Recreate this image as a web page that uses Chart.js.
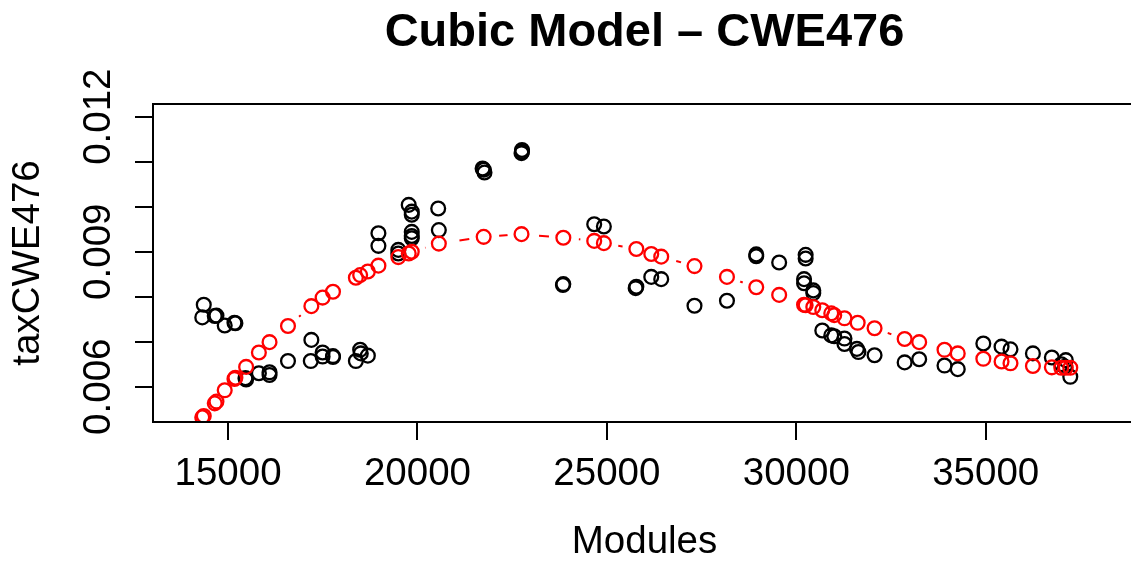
<!DOCTYPE html>
<html>
<head>
<meta charset="utf-8">
<title>Cubic Model – CWE476</title>
<script src="https://cdn.jsdelivr.net/npm/chart.js@4.4.1/dist/chart.umd.min.js"></script>
<style>
  html, body { margin: 0; padding: 0; background: #fff; overflow: hidden; }
  #wrap { width: 1131px; height: 562px; overflow: hidden; }
  canvas { display: block; }
</style>
</head>
<body>
<div id="wrap"><canvas id="c" width="1150" height="562"></canvas></div>
<script>
// observed values (black circles)
const obsModules = [
  14360, 14320, 14650, 14695, 14913, 15170, 15195, 15460, 15478, 15815,
  16096, 16096, 16583, 17200, 17185, 17497, 17497, 17771, 17771, 18375,
  18488, 18505, 18691, 18970, 18970, 19495, 19495, 19770, 19850, 19850,
  19850, 19850, 19850, 20548, 20565, 21720, 21750, 21770, 22760, 22760,
  22747, 23851, 23840, 24666, 24921, 25778, 25760, 26172, 26435, 27313,
  28170, 28943, 28943, 29548, 30247, 30247, 30205, 30205, 30449, 30449,
  30686, 30923, 31002, 31272, 31272, 31600, 31640, 32066, 32860, 33244,
  33912, 34262, 34937, 35418, 35654, 36246, 36746, 36995, 37114, 37090,
  37232
];
const obsTax = [
  0.00782, 0.00754, 0.00757, 0.00758, 0.00736, 0.00742, 0.00741, 0.00619, 0.00616, 0.00630,
  0.00632, 0.00626, 0.00657, 0.00704, 0.00657, 0.00676, 0.00667, 0.00668, 0.00666, 0.00657,
  0.00682, 0.00674, 0.00669, 0.00941, 0.00913, 0.00904, 0.00896, 0.01004, 0.00989, 0.00982,
  0.00944, 0.00935, 0.00930, 0.00996, 0.00948, 0.01085, 0.01082, 0.01076, 0.01126, 0.01122,
  0.01119, 0.00828, 0.00826, 0.00961, 0.00956, 0.00822, 0.00819, 0.00844, 0.00839, 0.00780,
  0.00791, 0.00894, 0.00890, 0.00876, 0.00893, 0.00885, 0.00839, 0.00830, 0.00814, 0.00808,
  0.00725, 0.00714, 0.00712, 0.00707, 0.00695, 0.00684, 0.00677, 0.00670, 0.00654, 0.00661,
  0.00647, 0.00639, 0.00696, 0.00689, 0.00683, 0.00674, 0.00665, 0.00650, 0.00659, 0.00644,
  0.00622
];

// fitted cubic values (red circles + dashed line)
const fitModules = [
  14320, 14360, 14650, 14695, 14913, 15170, 15195, 15478, 15815, 16096,
  16583, 17200, 17497, 17771, 18375, 18488, 18691, 18970, 19495, 19770,
  19850, 20565, 21748, 22747, 23851, 24666, 24921, 25778, 26172, 26435,
  27313, 28170, 28943, 29548, 30205, 30247, 30449, 30686, 30923, 31002,
  31272, 31620, 32066, 32860, 33244, 33912, 34262, 34937, 35418, 35654,
  36246, 36746, 36995, 37114, 37232
];
const fitTax = [
  0.00532, 0.00535, 0.00563, 0.00567, 0.00592, 0.00617, 0.00620, 0.00644, 0.00676, 0.00699,
  0.00735, 0.00779, 0.00798, 0.00811, 0.00842, 0.00848, 0.00856, 0.00869, 0.00888, 0.00896,
  0.00900, 0.00918, 0.00933, 0.00939, 0.00931, 0.00924, 0.00919, 0.00906, 0.00895, 0.00889,
  0.00868, 0.00844, 0.00821, 0.00804, 0.00782, 0.00781, 0.00777, 0.00770, 0.00763, 0.00759,
  0.00752, 0.00742, 0.00730, 0.00706, 0.00699, 0.00682, 0.00674, 0.00662, 0.00656, 0.00652,
  0.00646, 0.00643, 0.00642, 0.00642, 0.00642
];

const xTicks = [15000, 20000, 25000, 30000, 35000];
const xTickLabels = ["15000", "20000", "25000", "30000", "35000"];
const yTicks = [0.006, 0.007, 0.008, 0.009, 0.010, 0.011, 0.012];
const yLabelTicks = [0.006, 0.009, 0.012];      // R drops the overlapping ones
const yTickLabels = ["0.006", "0.009", "0.012"];

const FONT = "'Liberation Sans', Arial, Helvetica, sans-serif";
const AXIS_PX = 38.5;
const TICK_LEN = 18;

const pts = (xs, ys) => xs.map((x, i) => ({ x, y: ys[i] }));

// box + rotated y tick labels (chart.js won't rotate y tick labels)
const rFrame = {
  id: "rFrame",
  afterDraw(chart) {
    const { ctx, chartArea: a, scales } = chart;
    ctx.save();
    ctx.strokeStyle = "#000";
    ctx.lineWidth = 2;
    ctx.strokeRect(a.left, a.top, a.right - a.left, a.bottom - a.top);
    ctx.fillStyle = "#000";
    ctx.font = AXIS_PX + "px " + FONT;
    ctx.textAlign = "center";
    ctx.textBaseline = "alphabetic";
    yLabelTicks.forEach((v, i) => {
      ctx.save();
      ctx.translate(a.left - TICK_LEN - 25, scales.y.getPixelForValue(v));
      ctx.rotate(-Math.PI / 2);
      ctx.fillText(yTickLabels[i], 0, 0);
      ctx.restore();
    });
    ctx.restore();
  },
};

new Chart(document.getElementById("c"), {
  type: "scatter",
  data: {
    datasets: [
      {
        // dashed fit line; white discs cut gaps round each point like type="b"
        type: "line",
        data: pts(fitModules, fitTax),
        showLine: true,
        borderColor: "#ff0000",
        borderWidth: 2,
        borderDash: [10, 10],
        pointRadius: 14,
        pointBorderWidth: 0,
        pointBackgroundColor: "#ffffff",
        pointBorderColor: "#ffffff",
        clip: 0,
        order: 3,
      },
      {
        data: pts(obsModules, obsTax),
        pointStyle: "circle",
        pointRadius: 6.9,
        pointBorderWidth: 2.3,
        pointBorderColor: "#000000",
        pointBackgroundColor: "rgba(0,0,0,0)",
        clip: 0,
        order: 2,
      },
      {
        data: pts(fitModules, fitTax),
        pointStyle: "circle",
        pointRadius: 6.9,
        pointBorderWidth: 2.3,
        pointBorderColor: "#ff0000",
        pointBackgroundColor: "rgba(0,0,0,0)",
        clip: 0,
        order: 1,
      },
    ],
  },
  options: {
    responsive: false,
    animation: false,
    events: [],
    layout: { padding: { left: 0, right: 10, top: 0, bottom: 0 } },
    plugins: {
      legend: { display: false },
      tooltip: { enabled: false },
      title: {
        display: true,
        fullSize: false,
        text: "Cubic Model – CWE476",
        color: "#000",
        font: { family: FONT, size: 47, weight: "bold", lineHeight: 1 },
        padding: { top: 10, bottom: 47 },
      },
    },
    scales: {
      x: {
        type: "linear",
        min: 13020,
        max: 38967,
        afterBuildTicks: (s) => { s.ticks = xTicks.map((v) => ({ value: v })); },
        afterFit: (s) => { s.height = 140; },
        grid: { drawOnChartArea: false, drawTicks: true, tickLength: TICK_LEN, color: "#000", lineWidth: 2 },
        border: { display: false },
        ticks: {
          color: "#000",
          padding: 15,
          maxRotation: 0,
          autoSkip: false,
          font: { family: FONT, size: AXIS_PX, lineHeight: 1 },
          callback: (v) => xTickLabels[xTicks.indexOf(v)],
        },
        title: {
          display: true,
          text: "Modules",
          color: "#000",
          font: { family: FONT, size: AXIS_PX, lineHeight: 1 },
          padding: { top: 0, bottom: 0 },
        },
      },
      y: {
        type: "linear",
        min: 0.005216,
        max: 0.012282,
        afterBuildTicks: (s) => { s.ticks = yTicks.map((v) => ({ value: v })); },
        afterFit: (s) => { s.width = 153; },
        grid: { drawOnChartArea: false, drawTicks: true, tickLength: TICK_LEN, color: "#000", lineWidth: 2 },
        border: { display: false },
        ticks: { display: false },
        title: {
          display: true,
          text: "taxCWE476",
          color: "#000",
          font: { family: FONT, size: AXIS_PX, lineHeight: 1 },
          padding: { top: 9.5, bottom: 0 },
        },
      },
    },
  },
  plugins: [rFrame],
});
</script>
</body>
</html>
